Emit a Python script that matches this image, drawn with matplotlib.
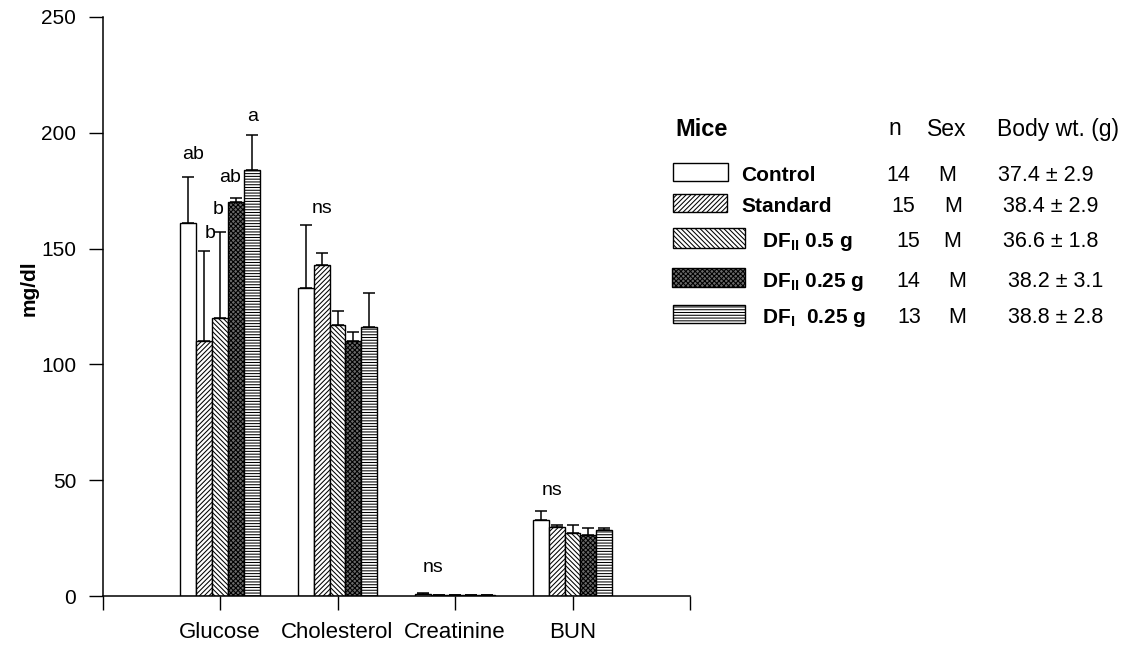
import matplotlib
matplotlib.use('Agg')
import matplotlib.pyplot as plt
from matplotlib.patches import Rectangle
import numpy as np

plt.rcParams['font.family'] = ['Liberation Sans', 'DejaVu Sans']
plt.rcParams['mathtext.fontset'] = 'custom'
plt.rcParams['mathtext.rm'] = 'Liberation Sans'
plt.rcParams['mathtext.bf'] = 'Liberation Sans:bold'
plt.rcParams['hatch.color'] = 'black'
plt.rcParams['hatch.linewidth'] = 0.75

# data
categories = ['Glucose', 'Cholesterol', 'Creatinine', 'BUN']
groups = ['Control', 'Standard', 'DF$_{\\mathbf{II}}$ 0.5 g', 'DF$_{\\mathbf{II}}$ 0.25 g', 'DF$_{\\mathbf{I}}$  0.25 g']

control = [161, 133, 1.0, 32.6]
standard = [110, 143, 0.5, 30.0]
df2_05 = [120, 117, 0.4, 27.4]
df2_025 = [170, 110, 0.4, 26.4]
df1_025 = [184, 116, 0.4, 28.3]

control_err = [20, 27, 0.2, 3.9]
standard_err = [39, 5, 0.1, 0.7]
df2_05_err = [37, 6, 0.1, 3.2]
df2_025_err = [2, 4, 0.1, 3.1]
df1_025_err = [15, 15, 0.1, 1.0]

n_mice = ['14', '15', '15', '14', '13']
sex = ['M', 'M', 'M', 'M', 'M']
body_wt = ['37.4 \u00b1 2.9', '38.4 \u00b1 2.9', '36.6 \u00b1 1.8', '38.2 \u00b1 3.1', '38.8 \u00b1 2.8']

# significance letters (x in data units, y = baseline)
sig_text = ['ab', 'b', 'b', 'ab', 'a', 'ns', 'ns', 'ns']
sig_x = [0.77, 0.915, 0.983, 1.085, 1.281, 1.868, 2.813, 3.826]
sig_y = [188.5, 154.7, 164.8, 178.9, 204.9, 165.5, 10.5, 43.7]

means = [control, standard, df2_05, df2_025, df1_025]
errs = [control_err, standard_err, df2_05_err, df2_025_err, df1_025_err]
hatches = ['', '///////', '\\\\\\\\\\\\\\', 'xxxxxxx', '------']
faces = ['white', 'white', 'white', '#6a6a6a', 'white']

fig = plt.figure(figsize=(11.3, 6.46), dpi=100)
ax = fig.add_axes([102.5 / 1130, 1 - 596 / 646, (690 - 102.5) / 1130, (596 - 17) / 646])

pos = np.arange(1, len(categories) + 1)
bw = 0.1345
for i in range(5):
    x = pos + (i - 2) * bw
    ax.bar(x, means[i], width=bw, color=faces[i], edgecolor='black',
           linewidth=1.0, hatch=hatches[i], zorder=2)
    ax.errorbar(x, means[i], yerr=[np.zeros(len(x)), errs[i]], fmt='none',
                ecolor='black', elinewidth=1.1, capsize=4.5, capthick=1.1, zorder=3)

for t, xx, yy in zip(sig_text, sig_x, sig_y):
    ax.text(xx, yy, t, ha='center', va='baseline', fontsize=14)

ax.set_xlim(0, 5)
ax.set_ylim(0, 250)
ax.set_xticks(range(6))
ax.set_xticklabels([''] + categories + [''], fontsize=16)
ax.set_yticks(range(0, 251, 50))
ax.tick_params(axis='y', labelsize=15, length=10, width=1, direction='out', pad=9)
ax.tick_params(axis='x', length=10, width=1, direction='out', pad=9)
ax.spines['top'].set_visible(False)
ax.spines['right'].set_visible(False)
ax.spines['left'].set_linewidth(1.1)
ax.spines['bottom'].set_linewidth(1.1)

fig.text(29 / 1130, 1 - 288 / 646, 'mg/dl', rotation=90, ha='center', va='center',
         fontsize=15, fontweight='bold')

# legend table drawn in pixel coordinates
lax = fig.add_axes([0, 0, 1, 1])
lax.set_xlim(0, 1130)
lax.set_ylim(646, 0)
lax.axis('off')

lax.text(675, 136, 'Mice', fontsize=17, fontweight='bold', ha='left', va='baseline')
lax.text(895, 135, 'n', fontsize=16.5, ha='center', va='baseline')
lax.text(947, 136, 'Sex', fontsize=16.5, ha='center', va='baseline')
lax.text(997, 136, 'Body wt. (g)', fontsize=16.5, ha='left', va='baseline')

sw_x = [673, 673, 673, 672, 673]
sw_w = [55, 54, 72, 73, 72]
sw_y = [163, 194, 228, 268, 305]
sw_h = [18, 18, 20, 19, 18]
lab_x = [741, 741, 762, 762, 762]
base_y = [181, 212, 247, 287, 323]
n_x = [898, 903, 908, 908, 909]
sex_x = [947, 953, 952, 957, 957]
wt_x = [998, 1003, 1003, 1008, 1008]

for i in range(5):
    lax.add_patch(Rectangle((sw_x[i], sw_y[i]), sw_w[i], sw_h[i], facecolor=faces[i],
                            edgecolor='black', linewidth=1.0, hatch=hatches[i]))
    lax.text(lab_x[i], base_y[i], groups[i], fontsize=15, fontweight='bold',
             ha='left', va='baseline')
    lax.text(n_x[i], base_y[i], n_mice[i], fontsize=15.5, ha='center', va='baseline')
    lax.text(sex_x[i], base_y[i], sex[i], fontsize=15.5, ha='center', va='baseline')
    lax.text(wt_x[i], base_y[i], body_wt[i], fontsize=15.5, ha='left', va='baseline')

fig.savefig('out.png', dpi=100)
